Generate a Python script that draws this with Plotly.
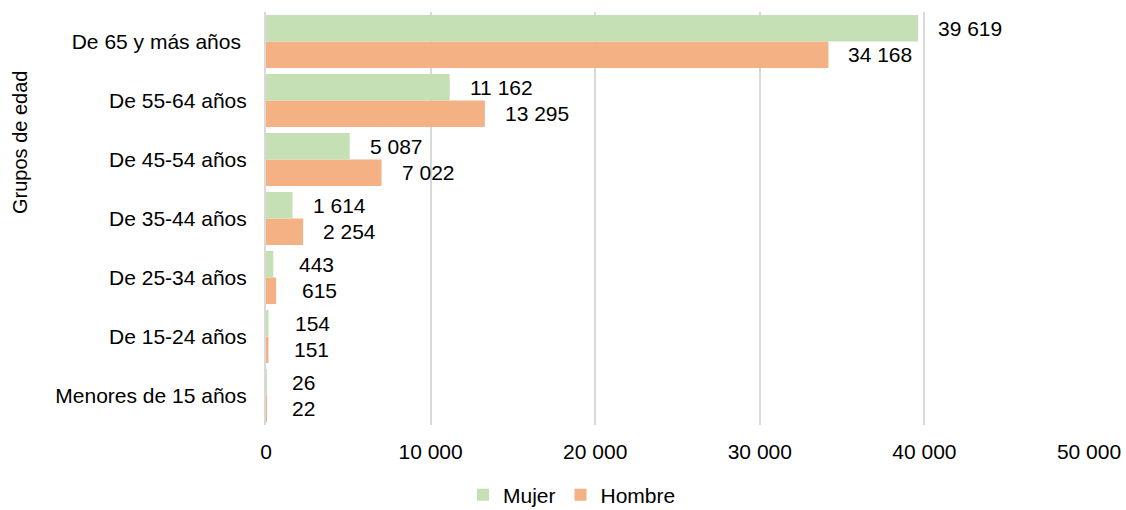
import plotly.graph_objects as go

categories = ["Menores de 15 años", "De 15-24 años", "De 25-34 años", "De 35-44 años",
              "De 45-54 años", "De 55-64 años", "De 65 y más años\u00a0"]
mujer = [26, 154, 443, 1614, 5087, 11162, 39619]
hombre = [22, 151, 615, 2254, 7022, 13295, 34168]
x_ticks = [0, 10000, 20000, 30000, 40000, 50000]

GREEN = "#C5E0B4"
ORANGE = "#F4B183"
FONT = "Liberation Sans, Arial, sans-serif"
pos = list(range(len(categories)))

W, H = 1126, 510
ML, MR, MT, MB = 266, 37, 12, 85
PW, PH = W - ML - MR, H - MT - MB

fig = go.Figure()
fig.add_trace(go.Bar(name="Hombre", y=pos, x=hombre, orientation="h",
                     marker=dict(color=ORANGE, line=dict(width=0)),
                     width=0.45, offset=-0.45))
fig.add_trace(go.Bar(name="Mujer", y=pos, x=mujer, orientation="h",
                     marker=dict(color=GREEN, line=dict(width=0)),
                     width=0.45, offset=0.0))

def fmt(v):
    return f"{v:,}".replace(",", " ")

ann = []
for i, (m, h) in enumerate(zip(mujer, hombre)):
    for val, dy in ((m, 0.225), (h, -0.225)):
        short = len(str(val)) <= 3
        ann.append(dict(x=val, y=i + dy, xref="x", yref="y", text=fmt(val),
                        showarrow=False, xanchor="left", yanchor="middle",
                        xshift=24 if short else 18,
                        font=dict(family=FONT, size=21, color="#000000")))

ann.append(dict(x=(20 - ML) / PW, y=(H - MB - 143) / PH, xref="paper", yref="paper",
                text="Grupos de edad", showarrow=False, textangle=-90,
                xanchor="center", yanchor="middle",
                font=dict(family=FONT, size=20, color="#000000")))

fig.update_layout(
    width=W, height=H,
    margin=dict(l=ML, r=MR, t=MT, b=MB, autoexpand=False),
    paper_bgcolor="white", plot_bgcolor="white",
    separators=", ",
    showlegend=True,
    legend=dict(orientation="h", x=(572 - ML) / PW, xanchor="center",
                y=-(495 - (H - MB)) / PH, yanchor="middle",
                traceorder="reversed", itemwidth=30,
                font=dict(family=FONT, size=21, color="#000000")),
    font=dict(family=FONT, size=21, color="#000000"),
    annotations=ann,
    hovermode=False,
)

fig.update_xaxes(range=[0, 50000], tickvals=x_ticks, showgrid=True, gridcolor="#D9D9D9",
                 gridwidth=2, zeroline=False, showline=False, ticks="outside", ticklen=8,
                 tickcolor="rgba(0,0,0,0)", tickformat=",d", automargin=False,
                 tickfont=dict(family=FONT, size=21, color="#000000"))
fig.update_yaxes(range=[-0.5, 6.5], tickvals=pos, ticktext=categories, showgrid=False,
                 zeroline=False, showline=True, linecolor="#D9D9D9", linewidth=2,
                 ticks="outside", ticklen=13, tickcolor="rgba(0,0,0,0)", automargin=False,
                 tickfont=dict(family=FONT, size=21, color="#000000"))

fig.write_html("out.html", config={"displayModeBar": False},
               post_script="document.body.style.margin='0';")
